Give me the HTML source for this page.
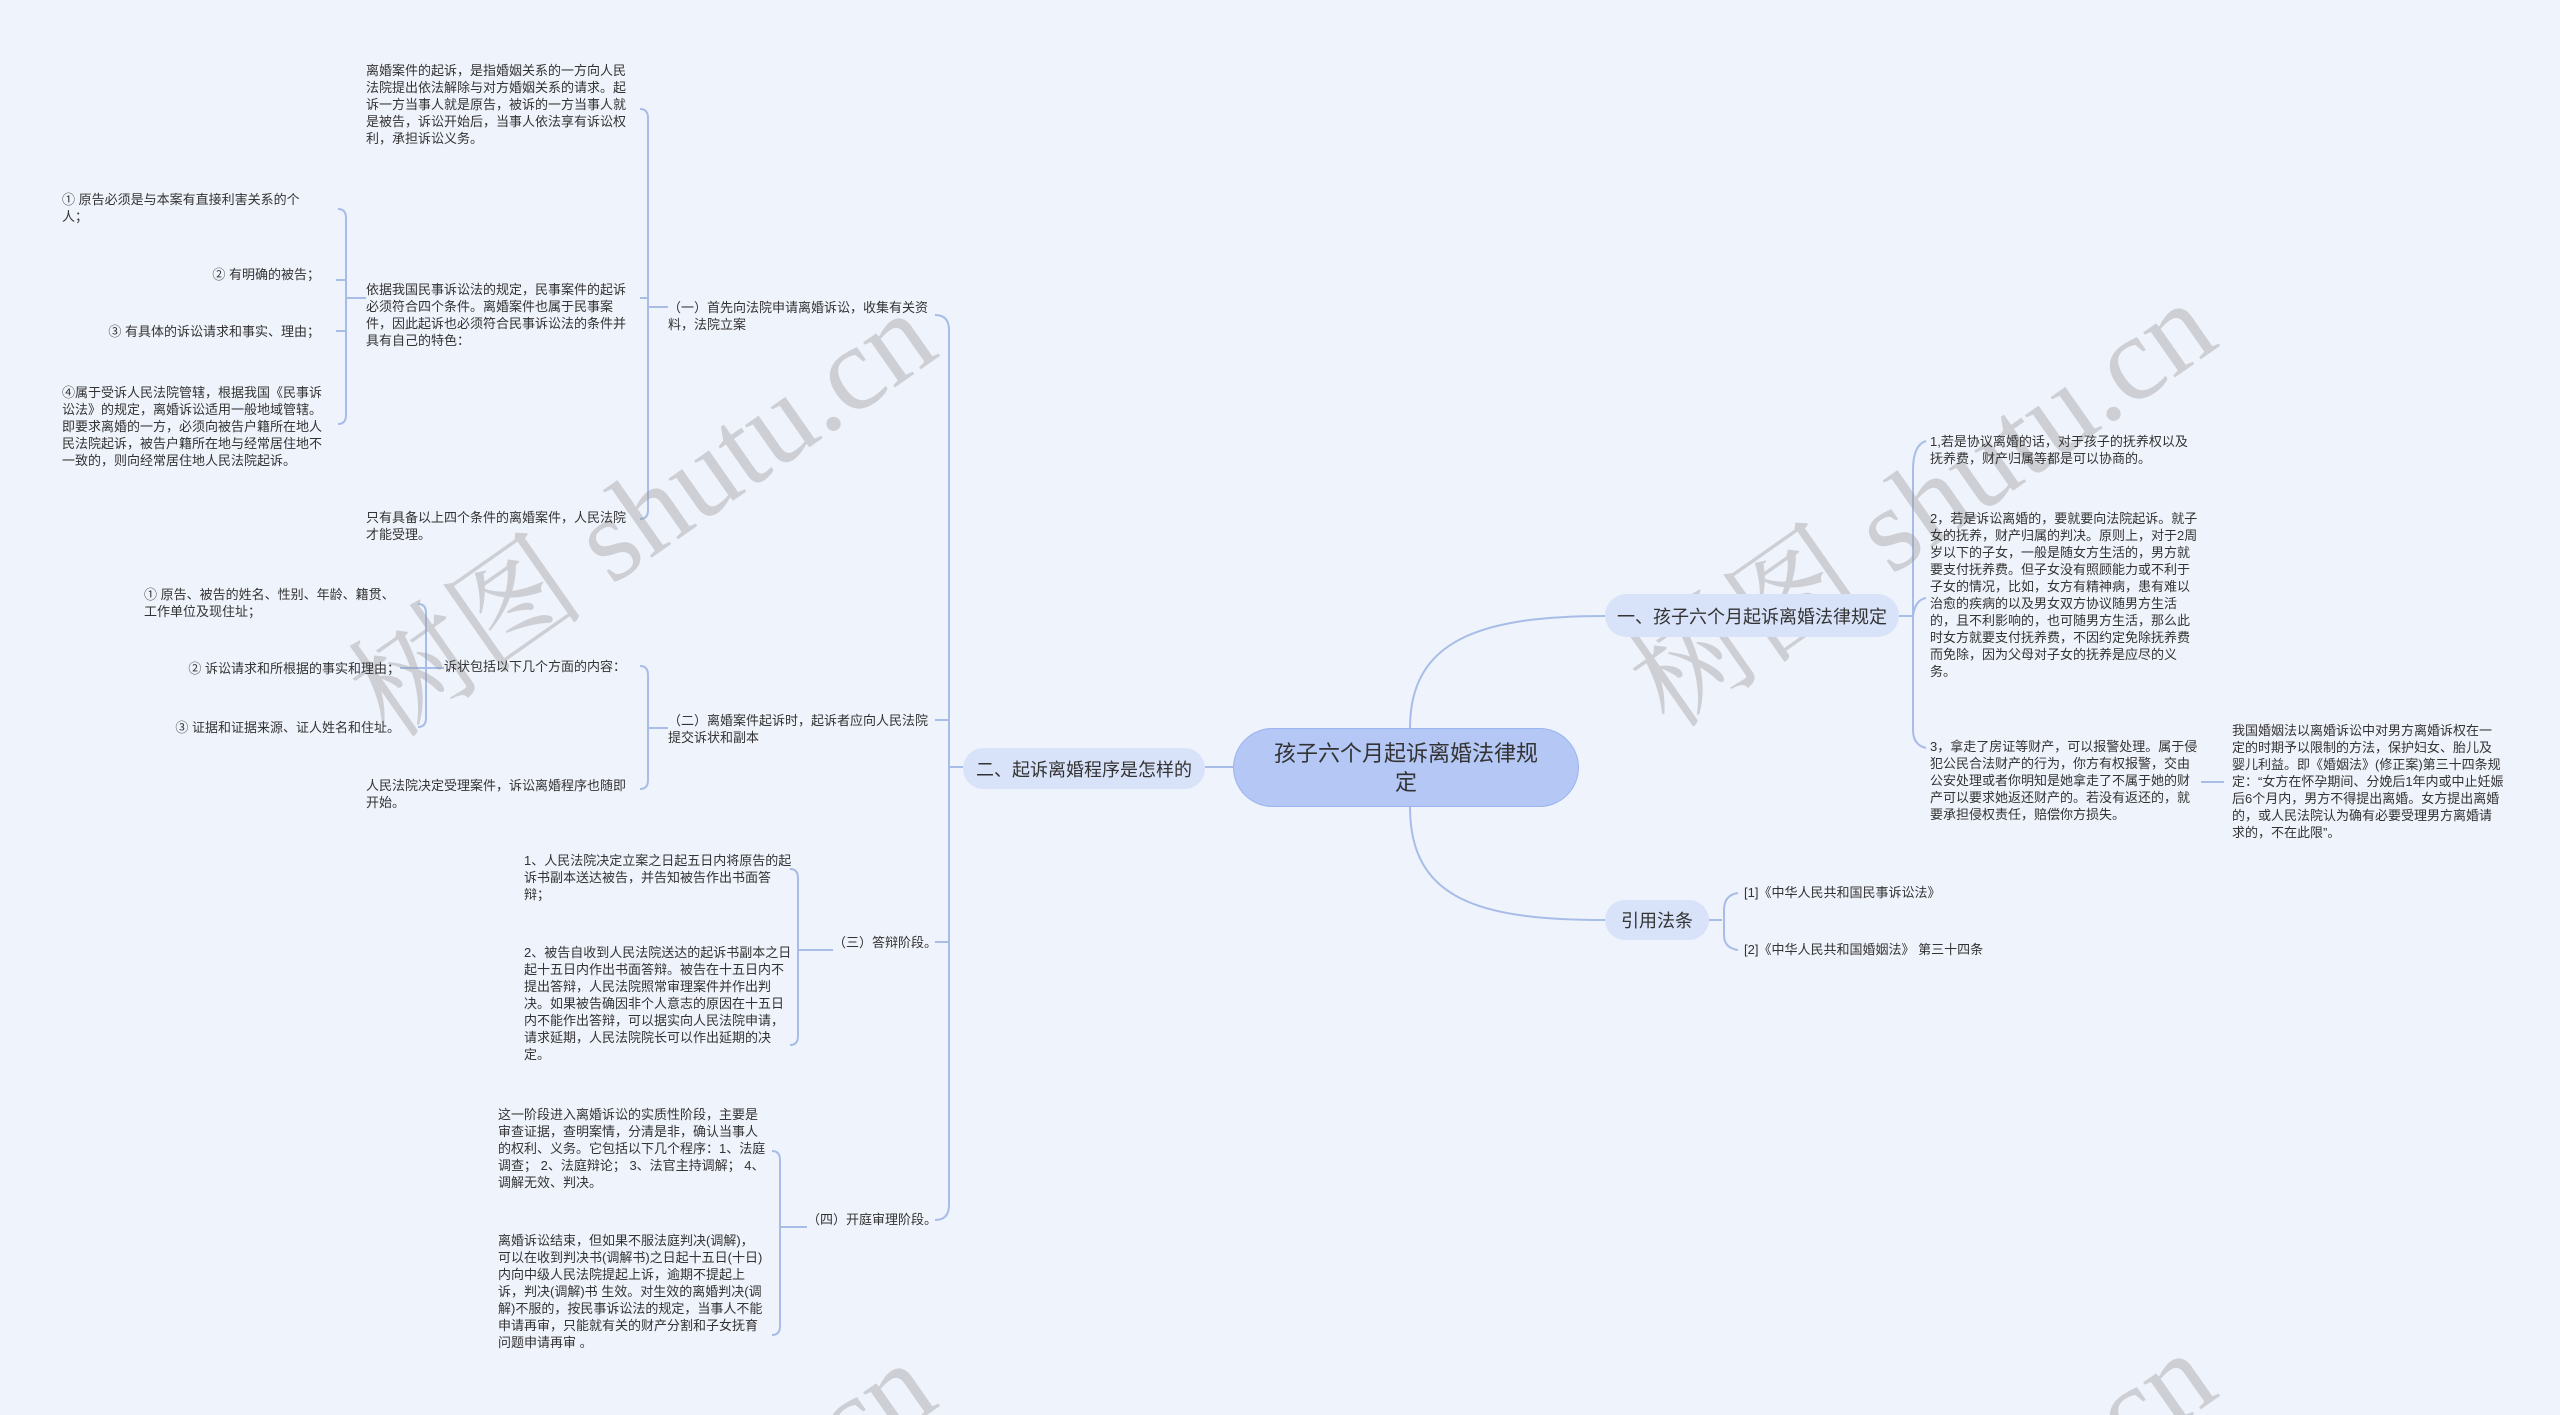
<!DOCTYPE html>
<html><head><meta charset="utf-8"><style>
html,body{margin:0;padding:0;width:2560px;height:1415px;overflow:hidden}
body{background:#eff3fb;position:relative;font-family:"Liberation Sans","Noto Sans CJK SC",sans-serif;color:#333}
.t{position:absolute;font-size:13px;line-height:17px;width:272px;word-break:break-all}
.r{text-align:right}
.n{position:absolute;border-radius:22px;background:#d8e3fa;color:#333;font-size:18px;display:flex;align-items:center;justify-content:center;box-sizing:border-box}
.wm{position:absolute;font-family:"Liberation Serif","Noto Serif CJK SC",serif;font-size:120px;color:rgba(150,150,150,0.38);transform:rotate(-35deg);white-space:nowrap;transform-origin:center}
svg{position:absolute;left:0;top:0}
#clip{position:absolute;left:0;top:0;width:2560px;height:1415px;overflow:hidden}
</style></head><body><div id="clip">
<svg width="2560" height="1415" fill="none" stroke="#a7bde8" stroke-width="2">
<path d="M1233,767 L1205,767"/>
<path d="M1410,728 C1410,640 1480,616 1605,616"/>
<path d="M1410,807 C1410,900 1480,920 1605,920"/>
<path d="M963,767 L949,767"/>
<path d="M935,315 Q949,315 949,330 L949,1205 Q949,1220 935,1220"/>
<path d="M935,720 L949,720 M935,942 L949,942"/>
<path d="M668,307 L648,307"/>
<path d="M640,109 Q648,109 648,118 L648,510 Q648,519 640,519"/>
<path d="M640,298 L648,298"/>
<path d="M366,298 L346,298"/>
<path d="M338,209 Q346,209 346,218 L346,415 Q346,424 338,424"/>
<path d="M336,280 L346,280 M336,331 L346,331"/>
<path d="M668,728 L648,728"/>
<path d="M640,666 Q648,666 648,675 L648,780 Q648,789 640,789"/>
<path d="M444,668 L426,668"/>
<path d="M418,604 Q426,604 426,613 L426,718 Q426,727 418,727"/>
<path d="M400,668 L426,668"/>
<path d="M833,950 L798,950"/>
<path d="M790,869 Q798,869 798,878 L798,1036 Q798,1045 790,1045"/>
<path d="M807,1227 L780,1227"/>
<path d="M772,1151 Q780,1151 780,1160 L780,1326 Q780,1335 772,1335"/>
<path d="M1899,616 L1913,616"/>
<path d="M1926,441 Q1913,445 1913,470 L1913,730 Q1913,745 1926,748"/>
<path d="M1913,616 Q1915,600 1926,598"/>
<path d="M2201,782 L2224,782"/>
<path d="M1709,920 L1722,920"/>
<path d="M1738,893 Q1724,895 1724,910 L1724,935 Q1724,948 1738,950"/>
</svg>

<div class="wm" style="left:300px;top:420px">树图 shutu.cn</div>
<div class="wm" style="left:1580px;top:410px">树图 shutu.cn</div>
<div class="wm" style="left:300px;top:1470px">树图 shutu.cn</div>
<div class="wm" style="left:1580px;top:1460px">树图 shutu.cn</div>

<div class="n" style="left:1233px;top:728px;width:346px;height:79px;background:#b4c7f5;border:1px solid #9bb3ee;border-radius:40px;font-size:22px;line-height:29px;text-align:center;padding:0 40px">孩子六个月起诉离婚法律规定</div>
<div class="n" style="left:963px;top:748px;width:242px;height:41px">二、起诉离婚程序是怎样的</div>
<div class="n" style="left:1605px;top:594px;width:294px;height:43px">一、孩子六个月起诉离婚法律规定</div>
<div class="n" style="left:1605px;top:900px;width:104px;height:40px">引用法条</div>

<div class="t" style="left:668px;top:299px;width:270px">（一）首先向法院申请离婚诉讼，收集有关资料，法院立案</div>
<div class="t" style="left:668px;top:712px;width:270px">（二）离婚案件起诉时，起诉者应向人民法院提交诉状和副本</div>
<div class="t" style="left:833px;top:934px;width:120px">（三）答辩阶段。</div>
<div class="t" style="left:807px;top:1211px;width:140px">（四）开庭审理阶段。</div>

<div class="t" style="left:366px;top:62px">离婚案件的起诉，是指婚姻关系的一方向人民法院提出依法解除与对方婚姻关系的请求。起诉一方当事人就是原告，被诉的一方当事人就是被告，诉讼开始后，当事人依法享有诉讼权利，承担诉讼义务。</div>
<div class="t" style="left:366px;top:281px">依据我国民事诉讼法的规定，民事案件的起诉必须符合四个条件。离婚案件也属于民事案件，因此起诉也必须符合民事诉讼法的条件并具有自己的特色：</div>
<div class="t" style="left:366px;top:509px">只有具备以上四个条件的离婚案件，人民法院才能受理。</div>

<div class="t" style="left:62px;top:191px;width:262px">① 原告必须是与本案有直接利害关系的个人；</div>
<div class="t r" style="left:62px;top:266px;width:258px">② 有明确的被告；</div>
<div class="t r" style="left:62px;top:323px;width:258px">③ 有具体的诉讼请求和事实、理由；</div>
<div class="t" style="left:62px;top:384px;width:272px">④属于受诉人民法院管辖，根据我国《民事诉讼法》的规定，离婚诉讼适用一般地域管辖。即要求离婚的一方，必须向被告户籍所在地人民法院起诉，被告户籍所在地与经常居住地不一致的，则向经常居住地人民法院起诉。</div>

<div class="t" style="left:444px;top:658px;width:200px">诉状包括以下几个方面的内容：</div>
<div class="t" style="left:366px;top:777px">人民法院决定受理案件，诉讼离婚程序也随即开始。</div>
<div class="t" style="left:144px;top:586px;width:256px">① 原告、被告的姓名、性别、年龄、籍贯、工作单位及现住址；</div>
<div class="t r" style="left:100px;top:660px;width:300px">② 诉讼请求和所根据的事实和理由；</div>
<div class="t r" style="left:100px;top:719px;width:300px">③ 证据和证据来源、证人姓名和住址。</div>

<div class="t" style="left:524px;top:852px;width:270px">1、人民法院决定立案之日起五日内将原告的起诉书副本送达被告，并告知被告作出书面答辩；</div>
<div class="t" style="left:524px;top:944px;width:270px">2、被告自收到人民法院送达的起诉书副本之日起十五日内作出书面答辩。被告在十五日内不提出答辩，人民法院照常审理案件并作出判决。如果被告确因非个人意志的原因在十五日内不能作出答辩，可以据实向人民法院申请，请求延期，人民法院院长可以作出延期的决定。</div>
<div class="t" style="left:498px;top:1106px;width:268px">这一阶段进入离婚诉讼的实质性阶段，主要是审查证据，查明案情，分清是非，确认当事人的权利、义务。它包括以下几个程序：1、法庭调查； 2、法庭辩论； 3、法官主持调解； 4、调解无效、判决。</div>
<div class="t" style="left:498px;top:1232px;width:268px">离婚诉讼结束，但如果不服法庭判决(调解)，可以在收到判决书(调解书)之日起十五日(十日)内向中级人民法院提起上诉，逾期不提起上诉，判决(调解)书 生效。对生效的离婚判决(调解)不服的，按民事诉讼法的规定，当事人不能申请再审，只能就有关的财产分割和子女抚育问题申请再审 。</div>

<div class="t" style="left:1930px;top:433px;width:270px">1,若是协议离婚的话，对于孩子的抚养权以及抚养费，财产归属等都是可以协商的。</div>
<div class="t" style="left:1930px;top:510px;width:270px">2，若是诉讼离婚的，要就要向法院起诉。就子女的抚养，财产归属的判决。原则上，对于2周岁以下的子女，一般是随女方生活的，男方就要支付抚养费。但子女没有照顾能力或不利于子女的情况，比如，女方有精神病，患有难以治愈的疾病的以及男女双方协议随男方生活的，且不利影响的，也可随男方生活，那么此时女方就要支付抚养费，不因约定免除抚养费而免除，因为父母对子女的抚养是应尽的义务。</div>
<div class="t" style="left:1930px;top:738px;width:270px">3，拿走了房证等财产，可以报警处理。属于侵犯公民合法财产的行为，你方有权报警，交由公安处理或者你明知是她拿走了不属于她的财产可以要求她返还财产的。若没有返还的，就要承担侵权责任，赔偿你方损失。</div>
<div class="t" style="left:2232px;top:722px;width:272px">我国婚姻法以离婚诉讼中对男方离婚诉权在一定的时期予以限制的方法，保护妇女、胎儿及婴儿利益。即《婚姻法》(修正案)第三十四条规定：“女方在怀孕期间、分娩后1年内或中止妊娠后6个月内，男方不得提出离婚。女方提出离婚的，或人民法院认为确有必要受理男方离婚请求的，不在此限”。</div>
<div class="t" style="left:1744px;top:884px;width:300px">[1]《中华人民共和国民事诉讼法》</div>
<div class="t" style="left:1744px;top:941px;width:300px">[2]《中华人民共和国婚姻法》 第三十四条</div>
</div></body></html>
